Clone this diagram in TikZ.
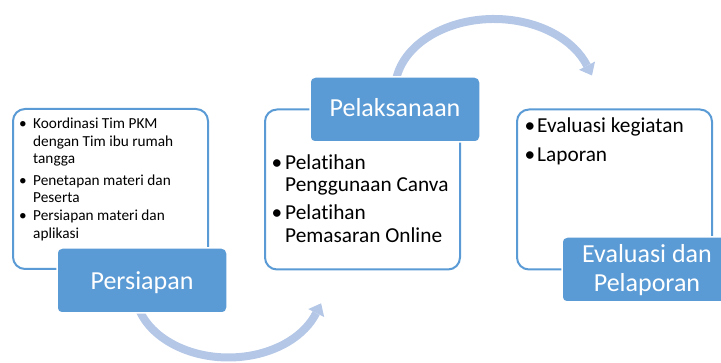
\documentclass[tikz,border=0pt]{standalone}
\usepackage{fontspec}
\setmainfont[Ligatures=NoCommon]{Carlito}
\definecolor{accent}{HTML}{5B9BD5}
\definecolor{arrowblue}{HTML}{B4C7E7}
\tikzset{
  panel/.style={draw=accent, line width=2pt, fill=white, rounded corners=12pt,
    minimum width=195pt, minimum height=160pt, inner sep=0pt, outer sep=0pt},
  stagebox/.style={fill=accent, draw=white, line width=1.5pt, rounded corners=5pt,
    minimum width=170pt, minimum height=65pt, inner sep=0pt, outer sep=0pt},
  stagetext/.style={text=white, font=\fontsize{26}{29}\selectfont, inner sep=0pt, anchor=base},
  smalltext/.style={font=\fontsize{15.3}{18}\selectfont, inner sep=0pt, anchor=base west},
  midtext/.style={font=\fontsize{21.3}{24}\selectfont, inner sep=0pt, anchor=base west},
  smallbul/.style={font=\fontsize{15.3}{18}\selectfont, inner sep=0pt, anchor=base},
  midbul/.style={font=\fontsize{21.3}{24}\selectfont, inner sep=0pt, anchor=base},
  band/.style={draw=arrowblue, line width=8pt},
  head/.style={fill=arrowblue},
}
\begin{document}
\begin{tikzpicture}[x=1pt,y=-1pt]
\useasboundingbox (0,0) rectangle (721,363);
% curved arrows (behind the boxes)
\coordinate (s1) at (136.6,301.7);
\coordinate (t1) at (321.1,303.3);
\coordinate (w1a) at (324.2,317.1);
\coordinate (w1b) at (308.2,309.1);
\draw[band] (s1) arc[start angle=170, end angle=20, x radius=93.3, y radius=67.5];
\fill[head] (t1) -- (w1a) -- (w1b) -- cycle;
\coordinate (s2) at (395.4,83.8);
\coordinate (t2) at (592.0,75.5);
\coordinate (w2a) at (595.0,61.6);
\coordinate (w2b) at (579.0,69.8);
\draw[band] (s2) arc[start angle=-175, end angle=-20, x radius=99, y radius=71];
\fill[head] (t2) -- (w2a) -- (w2b) -- cycle;
% panels
\node[panel] (p1) at (110.5,189) {};
\node[panel] (p2) at (362.5,189.5) {};
\node[panel] (p3) at (614.5,189.5) {};
% stage boxes
\node[stagebox] (g1) at (142,280.5) {};
\node[stagebox] (g2) at (395,109.5) {};
\node[stagebox] (g3) at (647,269.5) {};
\node[stagetext] (g1t) at (142,290) {Persiapan};
\node[stagetext] (g2t) at (395,117) {Pelaksanaan};
\node[stagetext] (g3a) at (647,263) {Evaluasi dan};
\node[stagetext] (g3b) at (647,292) {Pelaporan};
% panel 1 text
\node[smallbul] (d11) at (23,129) {•};
\node[smalltext] (l11) at (33,129) {Koordinasi Tim PKM};
\node[smalltext] (l12) at (33,146.5) {dengan Tim ibu rumah};
\node[smalltext] (l13) at (33,164) {tangga};
\node[smallbul] (d12) at (23,185.5) {•};
\node[smalltext] (l14) at (33,185.5) {Penetapan materi dan};
\node[smalltext] (l15) at (33,203) {Peserta};
\node[smallbul] (d13) at (23,221) {•};
\node[smalltext] (l16) at (33,221) {Persiapan materi dan};
\node[smalltext] (l17) at (33,238.5) {aplikasi};
% panel 2 text
\node[midbul] (d21) at (277,170) {•};
\node[midtext] (l21) at (285,170) {Pelatihan};
\node[midtext] (l22) at (285,192) {Penggunaan Canva};
\node[midbul] (d22) at (277,219.5) {•};
\node[midtext] (l23) at (285,219.5) {Pelatihan};
\node[midtext] (l24) at (285,242.5) {Pemasaran Online};
% panel 3 text
\node[midbul] (d31) at (530,133) {•};
\node[midtext] (l31) at (537,133) {Evaluasi kegiatan};
\node[midbul] (d32) at (530,162) {•};
\node[midtext] (l32) at (537,162) {Laporan};
\end{tikzpicture}
\end{document}
